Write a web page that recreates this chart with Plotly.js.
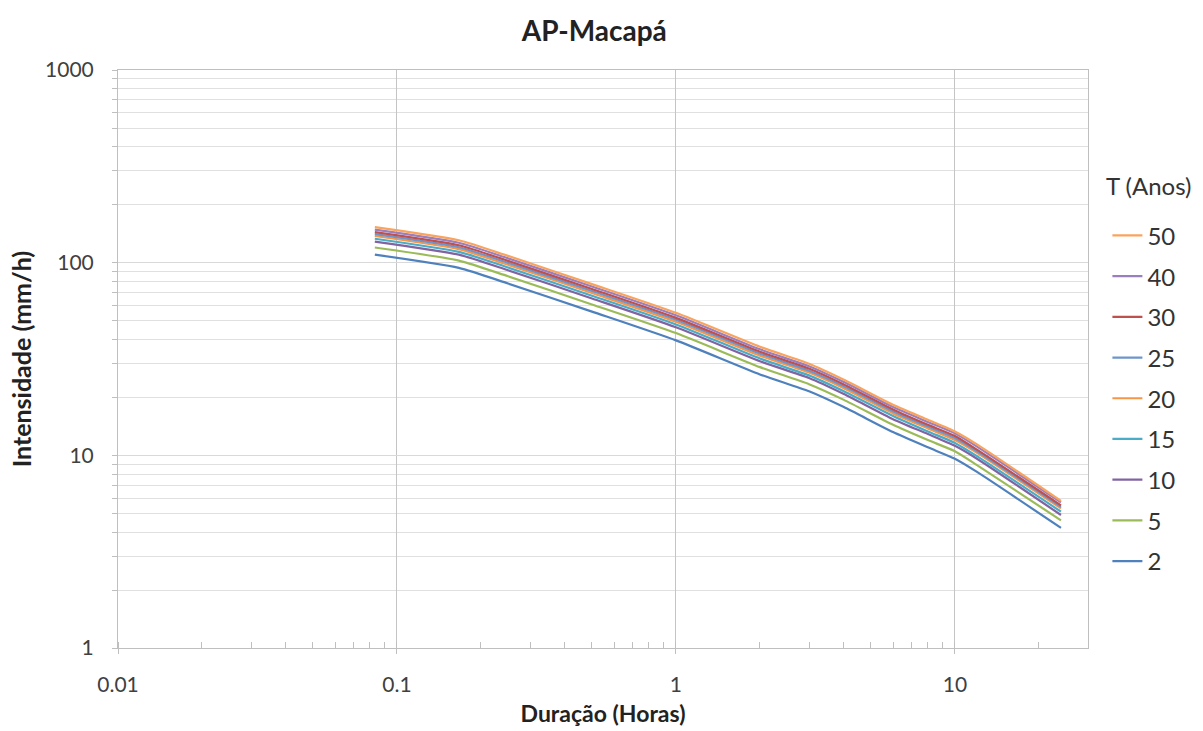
<!DOCTYPE html>
<html>
<head>
<meta charset="utf-8">
<script src="https://cdn.plot.ly/plotly-3.0.1.min.js"></script>
<style>html,body{margin:0;padding:0;background:#fff;}#chart{width:1203px;height:731px;}</style>
</head>
<body>
<div id="chart"></div>
<script>
// Durations in hours
const duracao = [0.0833, 0.1667, 0.25, 0.5, 1, 2, 3, 4, 6, 8, 10, 12, 24];
// Intensities (mm/h) per return period
const T2  = [110.0, 94.0, 78.0, 55.7, 39.5, 26.3, 21.5, 17.8, 13.2, 11.0, 9.6, 8.2, 4.2];
const T5  = [119.9, 102.5, 85.0, 60.7, 43.1, 28.7, 23.4, 19.4, 14.4, 12.0, 10.5, 8.9, 4.6];
const T10 = [128.7, 110.0, 91.3, 65.2, 46.2, 30.8, 25.2, 20.8, 15.4, 12.9, 11.2, 9.6, 4.9];
const T15 = [133.1, 113.7, 94.4, 67.4, 47.8, 31.8, 26.0, 21.5, 16.0, 13.3, 11.6, 9.9, 5.1];
const T20 = [137.5, 117.5, 97.5, 69.6, 49.4, 32.9, 26.9, 22.3, 16.5, 13.8, 12.0, 10.3, 5.3];
const T25 = [140.8, 120.3, 99.8, 71.3, 50.6, 33.7, 27.5, 22.8, 16.9, 14.1, 12.3, 10.5, 5.4];
const T30 = [144.1, 123.1, 102.2, 73.0, 51.7, 34.5, 28.2, 23.3, 17.3, 14.4, 12.6, 10.7, 5.5];
const T40 = [148.5, 126.9, 105.3, 75.2, 53.3, 35.5, 29.0, 24.0, 17.8, 14.9, 13.0, 11.1, 5.7];
const T50 = [152.9, 130.7, 108.4, 77.4, 54.9, 36.6, 29.9, 24.7, 18.3, 15.3, 13.3, 11.4, 5.8];

const seriesNames = ["2", "5", "10", "15", "20", "25", "30", "40", "50"];
const seriesData = [T2, T5, T10, T15, T20, T25, T30, T40, T50];
const seriesColors = ["#4F81BD", "#9BBB59", "#8064A2", "#4BACC6", "#F79646", "#6E95CB", "#C0504D", "#9A7FBF", "#F9A45E"];

const xTickVals = [0.01, 0.1, 1, 10];
const xTickText = ["0.01", "0.1", "1", "10"];
const yTickVals = [1, 10, 100, 1000];
const yTickText = ["1", "10", "100", "1000"];

const FONT = "Lato, 'Open Sans', sans-serif";

const traces = seriesNames.map((n, i) => ({
  x: duracao,
  y: seriesData[i],
  name: n,
  legendrank: 100 - i,
  legendgroup: "g" + i,
  type: "scatter",
  mode: "lines",
  line: {color: seriesColors[i], width: 2.2, shape: "spline", smoothing: 0.6}
}));

const layout = {
  width: 1203, height: 731,
  paper_bgcolor: "#fff", plot_bgcolor: "#fff",
  margin: {l: 118, r: 115, t: 70, b: 83},
  font: {family: FONT, color: "#404040", size: 21},
  title: {text: "<b>AP-Macapá</b>", x: 0.491, xref: "paper", y: 0.958, yref: "container", yanchor: "middle",
          font: {family: FONT, size: 28, color: "#222"}},
  xaxis: {
    type: "log", range: [-2, Math.log10(30)],
    tickmode: "array", tickvals: xTickVals, ticktext: xTickText,
    showgrid: true, gridcolor: "#c4c4c4", gridwidth: 1,
    showline: true, linecolor: "#bfbfbf", linewidth: 1, mirror: true,
    ticks: "outside", ticklen: 5, tickcolor: "#bfbfbf",
    ticklabelstandoff: 13,
    minor: {dtick: "D1", ticks: "inside", ticklen: 6, tickcolor: "#bfbfbf", showgrid: false},
    zeroline: false,
    title: {text: "<b>Duração (Horas)</b>", font: {family: FONT, size: 23, color: "#222"}, standoff: 10},
    tickfont: {family: FONT, size: 21, color: "#404040"}
  },
  yaxis: {
    type: "log", range: [0, 3],
    tickmode: "array", tickvals: yTickVals, ticktext: yTickText,
    showgrid: true, gridcolor: "#d9d9d9", gridwidth: 1,
    showline: true, linecolor: "#bfbfbf", linewidth: 1, mirror: true,
    ticks: "outside", ticklen: 5, tickcolor: "#bfbfbf",
    ticklabelstandoff: 14,
    minor: {dtick: "D1", ticks: "outside", ticklen: 5, tickcolor: "#bfbfbf", showgrid: true, gridcolor: "#e0e0e0", gridwidth: 1},
    zeroline: false,
    title: {text: "<b>Intensidade (mm/h)</b>", font: {family: FONT, size: 25, color: "#222"}, standoff: 6},
    tickfont: {family: FONT, size: 21, color: "#404040"}
  },
  legend: {
    x: 1.02, xanchor: "left", y: 0.752, yanchor: "top",
    tracegroupgap: 6.5,
    itemwidth: 30,
    bgcolor: "rgba(0,0,0,0)",
    font: {family: FONT, size: 24, color: "#333"}
  },
  annotations: [{
    text: "T (Anos)", xref: "paper", yref: "paper", x: 1.016, xanchor: "left",
    y: 0.80, yanchor: "middle", showarrow: false,
    font: {family: FONT, size: 24, color: "#333"}
  }],
  showlegend: true
};

Plotly.newPlot("chart", traces, layout, {displayModeBar: false, staticPlot: true});
</script>
</body>
</html>
